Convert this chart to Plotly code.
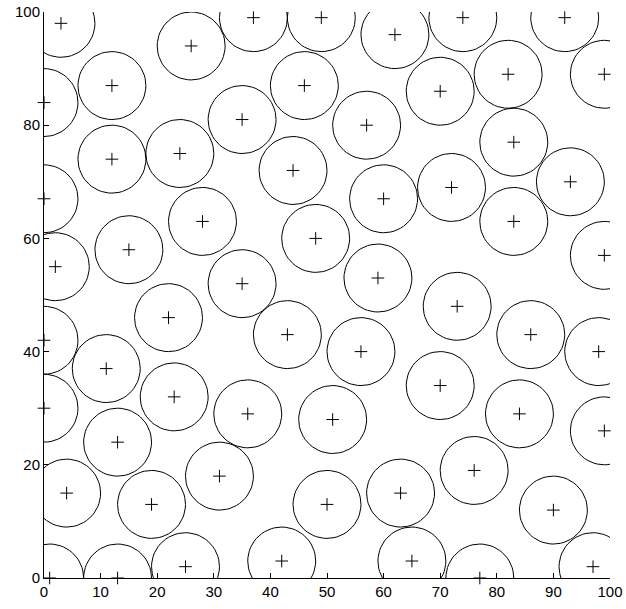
import numpy as np
import plotly.graph_objects as go

# circle centres
center_x = [3, 26, 12, 0, 12, 24, 35, 0,
            37, 49, 62, 46, 57, 44, 60,
            74, 92, 82, 99, 70, 83, 72, 93,
            28, 15, 2, 22, 0, 11, 35,
            48, 59, 43, 56,
            83, 99, 73, 86, 98, 70,
            0, 23, 13, 31, 4, 19, 25, 1, 13,
            36, 51, 50, 63, 42, 65,
            84, 99, 76, 90, 97, 77]
center_y = [98, 94, 87, 84, 74, 75, 81, 67,
            99, 99, 96, 87, 80, 72, 67,
            99, 99, 89, 89, 86, 77, 69, 70,
            63, 58, 55, 46, 42, 37, 52,
            60, 53, 43, 40,
            63, 57, 48, 43, 40, 34,
            30, 32, 24, 18, 15, 13, 2, 0, 0,
            29, 28, 13, 15, 3, 3,
            29, 26, 19, 12, 2, 0]
radius = 6
x_ticks = [0, 10, 20, 30, 40, 50, 60, 70, 80, 90, 100]
y_ticks = [0, 20, 40, 60, 80, 100]

theta = np.linspace(0, 2 * np.pi, 61)
cx_all, cy_all = [], []
for cx, cy in zip(center_x, center_y):
    cx_all.extend(list(cx + radius * np.cos(theta)) + [None])
    cy_all.extend(list(cy + radius * np.sin(theta)) + [None])

fig = go.Figure()
fig.add_trace(go.Scatter(x=cx_all, y=cy_all, mode="lines",
                         line=dict(color="black", width=1),
                         hoverinfo="skip", showlegend=False, cliponaxis=True))
fig.add_trace(go.Scatter(x=center_x, y=center_y, mode="markers",
                         marker=dict(symbol="cross-thin", size=9,
                                     line=dict(color="black", width=1)),
                         showlegend=False, cliponaxis=False))

axis_common = dict(showgrid=False, zeroline=False, showline=True,
                   linecolor="black", linewidth=1, mirror=False,
                   ticks="inside", ticklen=5, tickcolor="black", tickwidth=1,
                   automargin=False,
                   tickfont=dict(family="Liberation Sans, Arial", size=15, color="black"))
fig.update_xaxes(range=[0, 100], tickvals=x_ticks, **axis_common)
fig.update_yaxes(range=[0, 100], tickvals=y_ticks, **axis_common)
fig.update_layout(width=626, height=609,
                  margin=dict(l=44, r=16, t=12, b=31),
                  plot_bgcolor="white", paper_bgcolor="white")
fig.write_html("out.html", config={"displayModeBar": False},
               post_script="document.body.style.margin='0';document.body.style.overflow='hidden';")
